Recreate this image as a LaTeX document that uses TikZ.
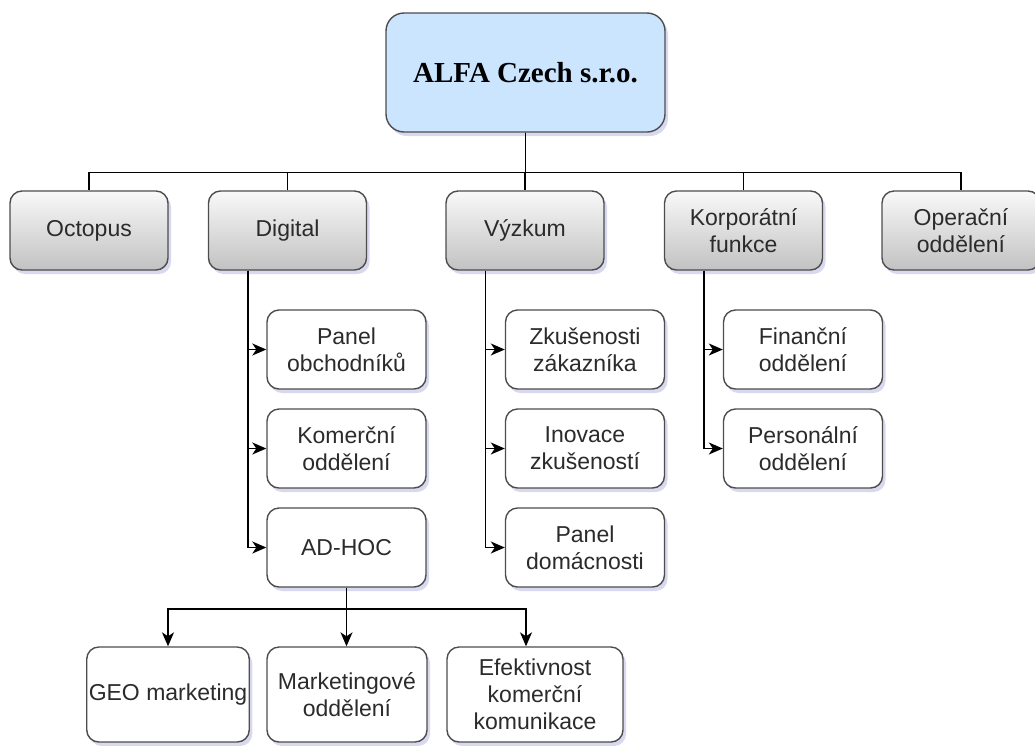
\documentclass[tikz,border=0pt]{standalone}
\usepackage{fontspec}
\setmainfont{Liberation Sans}
\newfontfamily\titlefont{Liberation Serif}
\usetikzlibrary{arrows.meta,shadows,positioning}
\definecolor{topblue}{HTML}{CCE5FF}
\definecolor{boxline}{HTML}{4D4D4D}
\definecolor{txt}{HTML}{2B2B2B}
\tikzset{
  base/.style={rectangle, rounded corners=12pt, draw=boxline, line width=1.4pt, align=center,
    text=txt, font=\fontsize{23}{27}\selectfont, inner sep=2pt,
    drop shadow={opacity=0.22, shadow xshift=3pt, shadow yshift=-4pt, fill=blue!40!gray}},
  topbox/.style={base, fill=topblue, rounded corners=18pt, minimum width=279pt, minimum height=119pt,
    font=\titlefont\bfseries\fontsize{29}{33}\selectfont, text=black},
  lvlone/.style={base, top color=white!95!gray, bottom color=gray!48, minimum width=158pt, minimum height=79pt},
  lvltwo/.style={base, fill=white, minimum width=159pt, minimum height=79pt},
  lvlthree/.style={base, fill=white, minimum width=160pt, minimum height=95pt},
  conn/.style={draw=black, line width=1.5pt},
  arr/.style={conn, -{Stealth[length=14pt,width=12pt,inset=4pt]}}
}
\begin{document}
\begin{tikzpicture}[x=1pt,y=-1pt]
\useasboundingbox (0,0) rectangle (1035,745);
% top
\node[topbox] (top) at (525.5,72.5) {ALFA Czech s.r.o.};
% level 1
\node[lvlone] (oct) at (89,230.5) {Octopus};
\node[lvlone] (dig) at (287.5,230.5) {Digital};
\node[lvlone] (vyz) at (525,230.5) {Výzkum};
\node[lvlone] (kor) at (743.5,230.5) {Korporátní\\funkce};
\node[lvlone] (ope) at (961,230.5) {Operační\\oddělení};
% level 2
\node[lvltwo] (pob) at (346.5,349.5) {Panel\\obchodníků};
\node[lvltwo] (kom) at (346.5,448.5) {Komerční\\oddělení};
\node[lvltwo] (adh) at (346.5,547.5) {AD-HOC};
\node[lvltwo] (zku) at (585,349.5) {Zkušenosti\\zákazníka};
\node[lvltwo] (ino) at (585,448.5) {Inovace\\zkušeností};
\node[lvltwo] (pdo) at (585,547.5) {Panel\\domácnosti};
\node[lvltwo] (fin) at (803,349.5) {Finanční\\oddělení};
\node[lvltwo] (per) at (803,448.5) {Personální\\oddělení};
% level 3
\node[lvlthree] (geo) at (168,694.5) {GEO marketing};
\node[lvlthree] (mkt) at (347,694.5) {Marketingové\\oddělení};
\node[lvlthree, minimum width=176pt] (efk) at (535,694.5) {Efektivnost\\komerční\\komunikace};
% connectors level 1
\foreach \n in {oct,dig,vyz,kor,ope}
  \draw[conn] (top.south) -- ++(0,40) -| (\n.north);
% trunks
\foreach \p/\c in {dig/pob,dig/kom,dig/adh,vyz/zku,vyz/ino,vyz/pdo,kor/fin,kor/per}
  \draw[arr] ([xshift=-39.5pt]\p.south) |- (\c.west);
% bottom
\draw[arr] (adh.south) -- ++(0,21.5) -| (geo.north);
\draw[arr] (adh.south) -- (adh.south |- mkt.north);
\draw[arr] (adh.south) -- ++(0,21.5) -| ([xshift=-9pt]efk.north);
\end{tikzpicture}
\end{document}
